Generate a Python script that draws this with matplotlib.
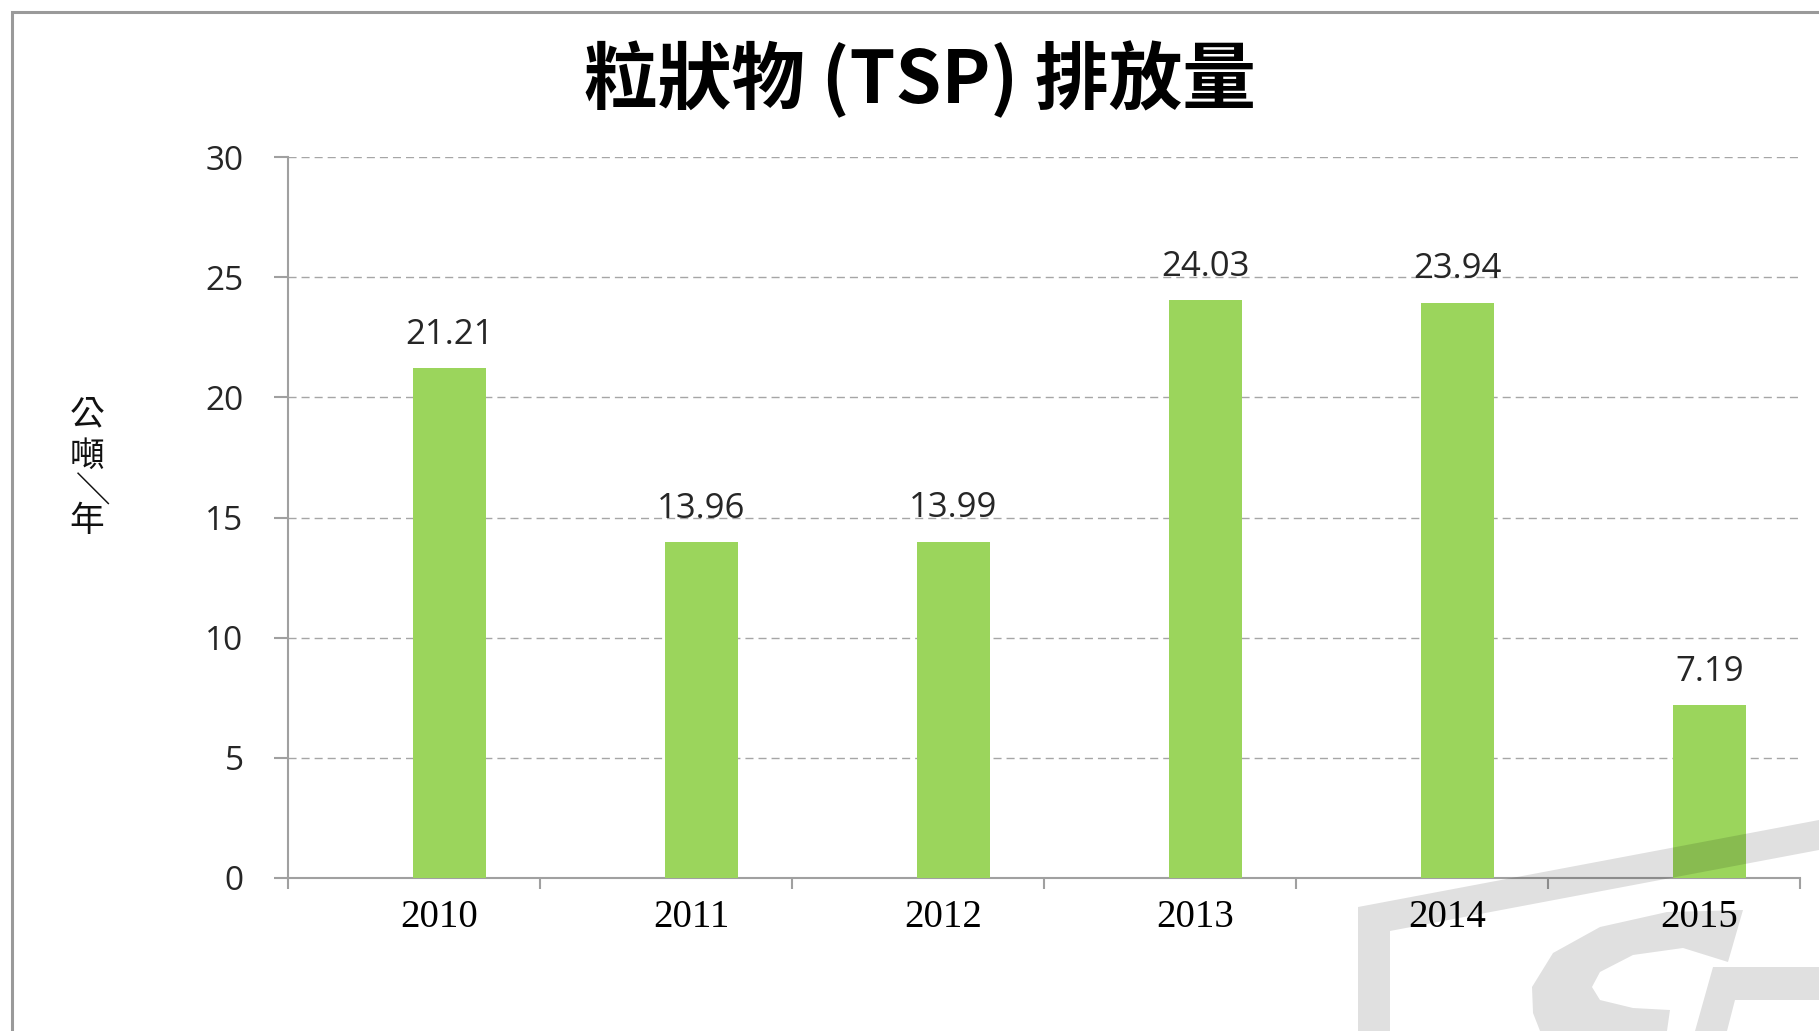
import matplotlib.pyplot as plt
from matplotlib.patches import Polygon, Rectangle

years = ["2010", "2011", "2012", "2013", "2014", "2015"]
tsp = [21.21, 13.96, 13.99, 24.03, 23.94, 7.19]
y_ticks = [0, 5, 10, 15, 20, 25, 30]
title = "粒狀物 (TSP) 排放量"
unit = "公噸/年"

W, H = 1819, 1031
fig = plt.figure(figsize=(W / 100, H / 100), dpi=100)
ax = fig.add_axes([288 / W, 1 - 878 / H, (1800 - 288) / W, (878 - 157) / H])

def px(x, y):
    # pixel coords measured from the top-left corner
    return (x, H - y)

# bars sit a little right of each category centre
idx = list(range(len(years)))
bar_x = [i + 0.5 + 0.14 for i in idx]
bars = ax.bar(bar_x, tsp, width=0.29, color="#9bd55c", zorder=3)
for b, v in zip(bars, tsp):
    ax.annotate(f"{v:.2f}", (b.get_x() + b.get_width() / 2, v),
                xytext=(0, 12), textcoords="offset points",
                ha="center", va="bottom", fontsize=25,
                family="Open Sans", color="#262626")

ax.set_xlim(0, len(years))
ax.set_ylim(0, 30)
ax.set_yticks(y_ticks)
ax.set_yticklabels([str(t) for t in y_ticks], family="Open Sans",
                   fontsize=24, color="#262626")
ax.set_xticks(range(len(years) + 1))
ax.set_xticklabels([])
ax.set_xticks([i + 0.5 + 0.1 for i in idx], minor=True)
ax.set_xticklabels(years, minor=True, family="Liberation Serif",
                   fontsize=28, color="black")
ax.tick_params(axis="x", which="minor", length=0, pad=15)
ax.tick_params(axis="x", which="major", length=8, width=1.5,
               color="#a0a0a0", direction="out")
ax.tick_params(axis="y", length=10, width=1.5, color="#a0a0a0",
               direction="out", pad=22)

ax.grid(axis="y", color="#a6a6a6", linewidth=1.0,
        linestyle=(0, (5.8, 3.6)), zorder=0)
for s in ["top", "right"]:
    ax.spines[s].set_visible(False)
for s in ["left", "bottom"]:
    ax.spines[s].set_color("#a0a0a0")
    ax.spines[s].set_linewidth(1.5)

fig.text(920 / W, 1 - 80 / H, title, ha="center", va="center",
         family=["Noto Sans CJK TC", "DejaVu Sans"], weight="bold",
         fontsize=53, color="black")

# vertical unit label, one character per line; the slash takes its
# vertical form (full-width, turned a quarter)
unit_y = [415, 456, 488, 522]
for ch, yy in zip(unit, unit_y):
    glyph = "／" if ch == "/" else ch
    fig.text(87 / W, 1 - yy / H, glyph, ha="center", va="center",
             family=["Noto Sans CJK TC", "DejaVu Sans"], fontsize=25,
             rotation=-90 if ch == "/" else 0, color="#111111")

# outer border of the slide
fig.patches.append(Rectangle(px(12, 1060), 1900, 1048, fill=False,
                             edgecolor="#9a9a9a", linewidth=2.2,
                             transform=None, figure=fig))

# faint logo watermark in the lower right
shapes = [
    [(1358, 1031), (1358, 907), (1819, 820), (1819, 850),
     (1390, 931), (1390, 1031)],
    [(1743, 910), (1667, 912), (1600, 927), (1553, 953), (1532, 987),
     (1533, 1013), (1540, 1031), (1667, 1031), (1670, 1010),
     (1633, 1008), (1600, 1000), (1592, 987), (1600, 972),
     (1633, 955), (1683, 948), (1728, 962)],
    [(1713, 967), (1819, 967), (1819, 1000), (1735, 1000),
     (1727, 1031), (1695, 1031)],
]
for pts in shapes:
    fig.patches.append(Polygon([px(x, y) for x, y in pts], closed=True,
                               facecolor="black", alpha=0.12,
                               edgecolor="none", transform=None,
                               figure=fig, zorder=10))

fig.savefig("out.png", dpi=100)
